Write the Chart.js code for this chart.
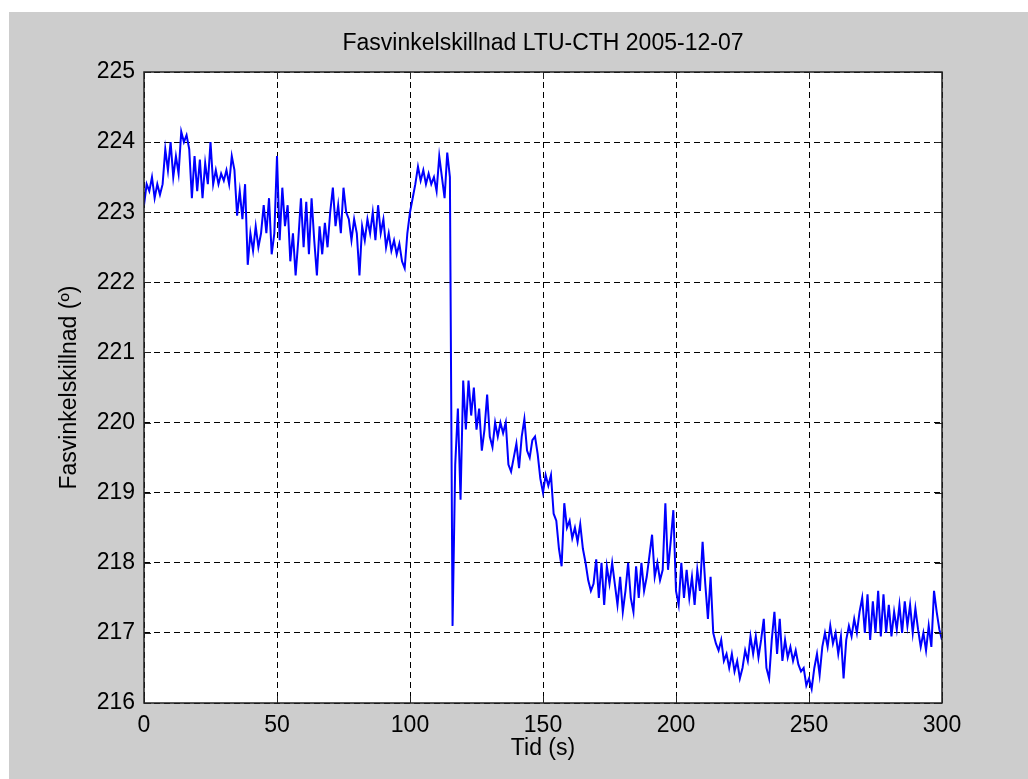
<!DOCTYPE html>
<html>
<head>
<meta charset="utf-8">
<script src="https://cdn.jsdelivr.net/npm/chart.js@4/dist/chart.umd.min.js"></script>
<style>
    html, body { margin: 0; padding: 0; background: #ffffff; }
    #wrap { width: 1028px; height: 779px; }
</style>
</head>
<body>
<div id="wrap"><canvas id="fas-chart" width="1028" height="779"></canvas></div>
<script>
// phase angle difference, one value per second (0..300 s)
const fasvinkel = [
    223.1, 223.4, 223.3, 223.5, 223.2, 223.4, 223.25, 223.4, 223.9, 223.6,
    224.0, 223.5, 223.8, 223.55, 224.15, 224.0, 224.1, 223.9, 223.2, 223.8,
    223.3, 223.75, 223.2, 223.7, 223.4, 224.0, 223.4, 223.6, 223.4, 223.55,
    223.45, 223.6, 223.4, 223.8, 223.6, 222.95, 223.3, 222.9, 223.4, 222.25,
    222.7, 222.45, 222.8, 222.5, 222.7, 223.1, 222.7, 223.2, 222.4, 222.7,
    223.8, 222.6, 223.35, 222.8, 223.1, 222.3, 222.7, 222.1, 222.6, 223.2,
    222.5, 223.15, 222.4, 223.2, 222.6, 222.1, 222.8, 222.4, 222.85, 222.5,
    223.0, 223.35, 222.8, 223.1, 222.7, 223.35, 223.0, 222.9, 222.6, 222.9,
    222.7, 222.1, 222.8, 222.6, 222.9, 222.7, 223.0, 222.6, 223.1, 222.7,
    222.9, 222.5, 222.7, 222.45, 222.6, 222.4, 222.55, 222.3, 222.2, 222.7,
    223.0, 223.2, 223.4, 223.65, 223.45, 223.6, 223.4, 223.55, 223.4, 223.5,
    223.3, 223.8, 223.5, 223.2, 223.85, 223.5, 217.1, 219.4, 220.2, 218.9,
    220.6, 219.9, 220.6, 220.1, 220.5, 219.9, 220.2, 219.6, 219.9, 220.4,
    219.8, 219.65, 220.0, 219.8, 220.0, 219.85, 220.0, 219.4, 219.3, 219.5,
    219.7, 219.35, 219.8, 220.05, 219.6, 219.5, 219.75, 219.8, 219.55, 219.2,
    219.0, 219.25, 219.1, 219.25, 218.7, 218.6, 218.2, 217.95, 218.85, 218.5,
    218.6, 218.35, 218.5, 218.3, 218.55, 218.2, 218.0, 217.75, 217.6, 217.7,
    218.05, 217.5, 218.0, 217.4, 217.95, 217.7, 218.0, 217.7, 217.4, 217.8,
    217.3, 217.6, 218.0, 217.5, 217.3, 217.95, 217.5, 218.0, 217.6, 217.8,
    218.1, 218.4, 217.8, 218.0, 217.75, 217.9, 218.85, 217.9, 218.3, 218.75,
    217.6, 217.4, 218.0, 217.5, 217.9, 217.5, 217.8, 217.4, 217.9, 217.6,
    218.3, 217.7, 217.2, 217.8, 217.0, 216.85, 216.75, 216.9, 216.6, 216.7,
    216.5, 216.7, 216.45, 216.6, 216.35, 216.5, 216.75, 216.6, 216.95, 216.7,
    216.95, 216.65, 216.9, 217.2, 216.5, 216.35, 216.9, 217.3, 216.7, 217.2,
    216.6, 216.9, 216.65, 216.8, 216.6, 216.75, 216.55, 216.45, 216.5, 216.25,
    216.35, 216.2, 216.5, 216.7, 216.4, 216.8, 217.0, 216.8, 217.1, 216.85,
    217.0, 216.7, 216.95, 216.35, 216.9, 217.1, 216.95, 217.2, 217.0, 217.3,
    217.5, 217.0, 217.55, 216.9, 217.45, 217.0, 217.6, 216.95, 217.55, 217.0,
    217.4, 216.95, 217.3, 217.05, 217.4, 217.0, 217.45, 217.1, 217.4, 217.0,
    217.35, 217.05, 216.8, 217.0, 216.75, 217.1, 216.8, 217.6, 217.3, 217.05,
    216.9
];
const tid = fasvinkel.map((v, i) => i);   // sample time in seconds

const xTicks = [0, 50, 100, 150, 200, 250, 300];
const yTicks = [216, 217, 218, 219, 220, 221, 222, 223, 224, 225];

const titleText = 'Fasvinkelskillnad LTU-CTH 2005-12-07';
const xLabel = 'Tid (s)';
const yLabel = 'Fasvinkelskillnad (\u00BA)';

const FONT = "'Liberation Sans', Arial, Helvetica, sans-serif";

// figure background, white axes area, box and inward ticks (matlab look)
const matlabAxes = {
    id: 'matlabAxes',
    beforeDraw(chart) {
        const ctx = chart.ctx;
        const a = chart.chartArea;
        ctx.save();
        ctx.fillStyle = '#ffffff';
        ctx.fillRect(0, 0, chart.width, chart.height);
        ctx.fillStyle = '#cdcdcd';
        ctx.fillRect(9, 12, chart.width - 9, chart.height - 12);
        ctx.fillStyle = '#ffffff';
        ctx.fillRect(a.left, a.top, a.right - a.left, a.bottom - a.top);
        ctx.restore();
    },
    afterDatasetsDraw(chart) {
        const ctx = chart.ctx;
        const a = chart.chartArea;
        const xs = chart.scales.x;
        const ys = chart.scales.y;
        const len = 7;
        ctx.save();
        ctx.strokeStyle = '#222222';
        ctx.lineWidth = 1;
        ctx.beginPath();
        xTicks.forEach(t => {
            const px = Math.round(xs.getPixelForValue(t)) + 0.5;
            ctx.moveTo(px, a.bottom); ctx.lineTo(px, a.bottom - len);
            ctx.moveTo(px, a.top); ctx.lineTo(px, a.top + len);
        });
        yTicks.forEach(t => {
            const py = Math.round(ys.getPixelForValue(t)) + 0.5;
            ctx.moveTo(a.left, py); ctx.lineTo(a.left + len, py);
            ctx.moveTo(a.right, py); ctx.lineTo(a.right - len, py);
        });
        ctx.stroke();
        ctx.lineWidth = 1.5;
        ctx.strokeRect(a.left, a.top, a.right - a.left, a.bottom - a.top);
        ctx.restore();
    }
};

function setupChart() {
    const ctx = document.getElementById('fas-chart').getContext('2d');
    const config = {
        type: 'line',
        data: {
            datasets: [{
                label: yLabel,
                data: tid.map((t, i) => ({x: t, y: fasvinkel[i]})),
                borderColor: '#0000ff',
                borderWidth: 2,
                pointRadius: 0,
                tension: 0,
                fill: false
            }]
        },
        options: {
            responsive: false,
            animation: false,
            layout: { padding: { left: 0, top: 0, right: 86, bottom: 0 } },
            plugins: {
                legend: { display: false },
                tooltip: { enabled: false },
                title: {
                    display: true,
                    text: titleText,
                    fullSize: false,
                    color: '#000000',
                    font: { family: FONT, size: 23, weight: 'normal', lineHeight: 1.2 },
                    padding: { top: 30, bottom: 14.4 }
                }
            },
            scales: {
                x: {
                    type: 'linear',
                    min: 0,
                    max: 300,
                    afterBuildTicks: s => { s.ticks = xTicks.map(v => ({value: v})); },
                    afterFit: s => { s.height = 76; },
                    grid: {
                        color: '#000000',
                        lineWidth: 1,
                        drawTicks: false
                    },
                    border: { display: false, dash: [6, 4] },
                    ticks: {
                        color: '#000000',
                        padding: 9,
                        maxRotation: 0,
                        font: { family: FONT, size: 23 }
                    },
                    title: {
                        display: true,
                        text: xLabel,
                        color: '#000000',
                        font: { family: FONT, size: 23, lineHeight: 1.2 },
                        padding: { top: 0, bottom: 17 }
                    }
                },
                y: {
                    type: 'linear',
                    min: 216,
                    max: 225,
                    afterBuildTicks: s => { s.ticks = yTicks.map(v => ({value: v})); },
                    afterFit: s => { s.width = 144; },
                    grid: {
                        color: '#000000',
                        lineWidth: 1,
                        drawTicks: false
                    },
                    border: { display: false, dash: [6, 4] },
                    ticks: {
                        color: '#000000',
                        padding: 9,
                        font: { family: FONT, size: 23 }
                    },
                    title: {
                        display: true,
                        text: yLabel,
                        color: '#000000',
                        font: { family: FONT, size: 23, lineHeight: 1.2 },
                        padding: { top: 56, bottom: 0 }
                    }
                }
            }
        },
        plugins: [matlabAxes]
    };
    return new Chart(ctx, config);
}

const fasChart = setupChart();
</script>
</body>
</html>
